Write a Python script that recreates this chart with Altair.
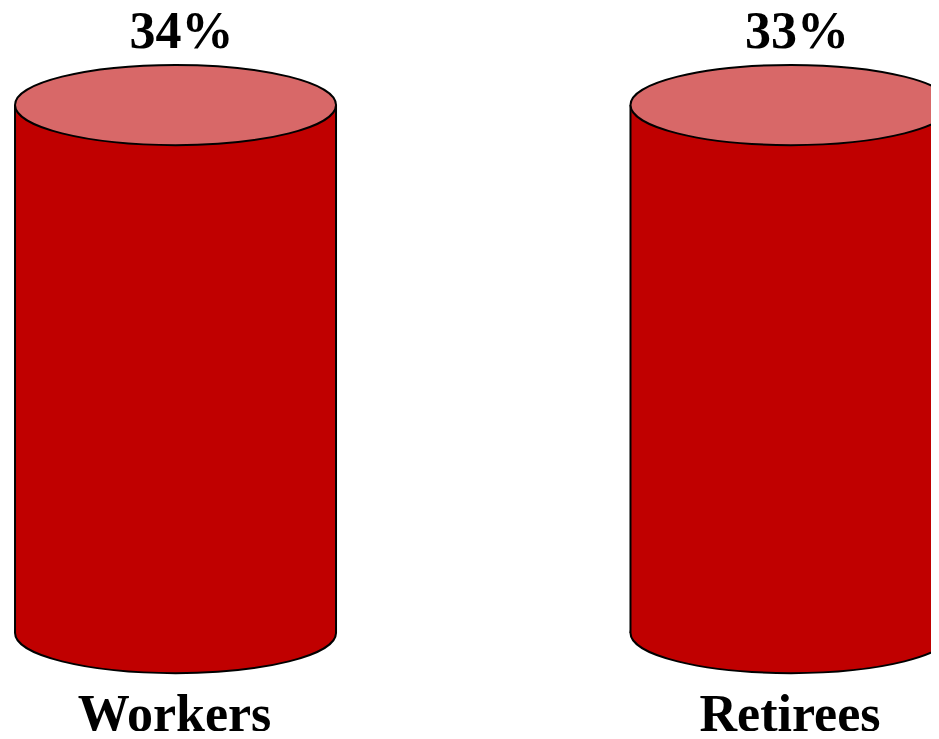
import altair as alt
import pandas as pd

# ---- data ----
categories = ["Workers", "Retirees"]
percents = [34, 33]
capacity = [100, 100]   # cylinders drawn as full containers (equal height in reference)

df = pd.DataFrame({
    "category": categories,
    "percent": percents,
    "label": [f"{p}%" for p in percents],
    "level": capacity,
    "zero": [0, 0],
})

RED = "#C00000"
TOP = "#D86868"
FONT = "Liberation Serif"
SW = 2

# unit ellipse (rx=1, ry=0.25) drawn with cubic beziers
ELLIPSE = ("M -1 0 C -1 -0.138 -0.552 -0.25 0 -0.25 "
           "C 0.552 -0.25 1 -0.138 1 0 "
           "C 1 0.138 0.552 0.25 0 0.25 "
           "C -0.552 0.25 -1 0.138 -1 0 Z")
ELL_SIZE = 321 * 321

xscale = alt.Scale(range=[7.5, 943], paddingInner=0.48, paddingOuter=0)
yscale = alt.Scale(domain=[0, 100], range=[625, 97])

base = alt.Chart(df).encode(
    x=alt.X("category:N", scale=xscale, axis=None, sort=categories)
)

bottom = base.mark_point(
    shape=ELLIPSE, size=ELL_SIZE, filled=True, fill=RED, stroke="black",
    strokeWidth=SW, opacity=1
).encode(y=alt.Y("zero:Q", scale=yscale, axis=None))

body = base.mark_bar(color=RED, strokeWidth=0, opacity=1).encode(
    y=alt.Y("level:Q", scale=yscale, axis=None), y2="zero:Q"
)

left_side = base.mark_rule(color="black", strokeWidth=SW, xOffset=-160.5).encode(
    y=alt.Y("level:Q", scale=yscale, axis=None), y2="zero:Q"
)
right_side = base.mark_rule(color="black", strokeWidth=SW, xOffset=160.5).encode(
    y=alt.Y("level:Q", scale=yscale, axis=None), y2="zero:Q"
)

top = base.mark_point(
    shape=ELLIPSE, size=ELL_SIZE, filled=True, fill=TOP, stroke="black",
    strokeWidth=SW, opacity=1
).encode(y=alt.Y("level:Q", scale=yscale, axis=None))

pct_text = base.mark_text(
    font=FONT, fontSize=52, fontWeight="bold", color="black",
    baseline="alphabetic", align="center", dy=-57, dx=6
).encode(y=alt.Y("level:Q", scale=yscale, axis=None), text="label:N")

cat_text = base.mark_text(
    font=FONT, fontSize=52, fontWeight="bold", color="black",
    baseline="alphabetic", align="center", dy=98, dx=-1
).encode(y=alt.Y("zero:Q", scale=yscale, axis=None), text="category:N")

chart = alt.layer(bottom, body, left_side, right_side, top, pct_text, cat_text).properties(
    width=923, height=723,
    autosize=alt.AutoSizeParams(type="none"),
    padding=0,
).configure_view(stroke=None)

chart.save("out.html", embed_options={"renderer": "svg", "actions": False})
